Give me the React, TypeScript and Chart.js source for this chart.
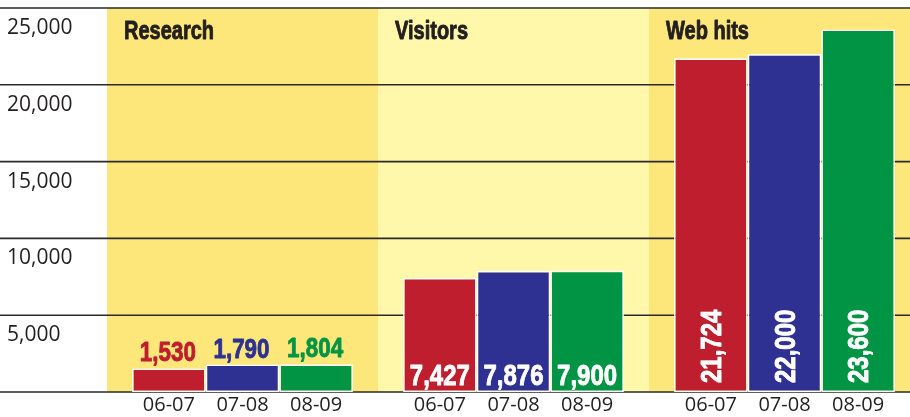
import React, { useEffect, useRef } from 'react';
import { Chart, registerables } from 'chart.js';

Chart.register(...registerables);

const categories = ['Research', 'Visitors', 'Web hits'];
const periods = ['06-07', '07-08', '08-09'];
const values0607 = [1530, 7427, 21724];
const values0708 = [1790, 7876, 22000];
const values0809 = [1804, 7900, 23600];
const yTicks = [0, 5000, 10000, 15000, 20000, 25000];

const seriesColors = ['#be1e2d', '#2e3192', '#009444'];
const panelColors = ['#fee77a', '#fff7aa', '#fee77a'];
const ink = '#231f20';
const boldFace = '"Liberation Sans", Arial, sans-serif';
const regular = '"Open Sans", "Noto Sans", sans-serif';
const condense = 0.8;

const fmt = (v: number) => v.toLocaleString('en-US');

function heavyText(ctx: any, text: string, color: string) {
  ctx.fillStyle = color;
  ctx.strokeStyle = color;
  ctx.lineWidth = 0.9;
  ctx.lineJoin = 'round';
  ctx.fillText(text, 0, 0);
  ctx.strokeText(text, 0, 0);
}

function condensedText(ctx: any, text: string, x: number, y: number, align: string, color: string) {
  ctx.save();
  ctx.translate(x, y);
  ctx.scale(condense, 1);
  ctx.textAlign = align;
  heavyText(ctx, text, color);
  ctx.restore();
}

const backdrop = {
  id: 'backdrop',
  beforeDatasetsDraw(chart: any) {
    const { ctx, chartArea, scales } = chart;
    const x = scales.x;
    const y = scales.y;
    ctx.save();
    const n = categories.length;
    for (let i = 0; i < n; i++) {
      const c = x.getPixelForValue(i);
      const left = i === 0 ? chartArea.left : (x.getPixelForValue(i - 1) + c) / 2;
      const right = i === n - 1 ? chart.width : (c + x.getPixelForValue(i + 1)) / 2;
      ctx.fillStyle = panelColors[i];
      ctx.fillRect(left, chartArea.top, right - left, chartArea.bottom - chartArea.top);
      ctx.font = `bold 25px ${boldFace}`;
      ctx.textBaseline = 'alphabetic';
      condensedText(ctx, categories[i], left + 17, chartArea.top + 31, 'left', ink);
    }
    ctx.strokeStyle = '#2a2a2a';
    ctx.lineWidth = 1.6;
    yTicks.forEach((v) => {
      const py = y.getPixelForValue(v);
      ctx.beginPath();
      ctx.moveTo(0, py);
      ctx.lineTo(chart.width, py);
      ctx.stroke();
    });
    ctx.restore();
  },
};

const valueLabels = {
  id: 'valueLabels',
  afterDatasetsDraw(chart: any) {
    const { ctx } = chart;
    ctx.save();
    chart.data.datasets.forEach((ds: any, di: number) => {
      const meta = chart.getDatasetMeta(di);
      meta.data.forEach((bar: any, i: number) => {
        const v = ds.data[i] as number;
        const { x: bx, y: by, base } = bar.getProps(['x', 'y', 'base'], true);
        const h = base - by;
        const txt = fmt(v);
        if (h < 60) {
          ctx.font = `bold 28px ${boldFace}`;
          ctx.textBaseline = 'alphabetic';
          condensedText(ctx, txt, bx - 1, by - 7, 'center', seriesColors[di]);
        } else if (h < 200) {
          ctx.font = `bold 30px ${boldFace}`;
          ctx.textBaseline = 'alphabetic';
          condensedText(ctx, txt, bx, base - 7, 'center', '#ffffff');
        } else {
          ctx.save();
          ctx.font = `bold 30px ${boldFace}`;
          ctx.translate(bx + 1, base - 9);
          ctx.rotate(-Math.PI / 2);
          ctx.scale(condense, 1);
          ctx.textAlign = 'left';
          ctx.textBaseline = 'middle';
          ctx.translate(0, 1);
          heavyText(ctx, txt, '#ffffff');
          ctx.restore();
        }
        ctx.fillStyle = ink;
        ctx.font = `20px ${regular}`;
        ctx.textAlign = 'center';
        ctx.textBaseline = 'middle';
        ctx.fillText(ds.label, bx, base + 13);
      });
    });
    ctx.restore();
  },
};

export default function App() {
  const ref = useRef<HTMLCanvasElement | null>(null);
  useEffect(() => {
    if (!ref.current) return;
    const seriesValues = [values0607, values0708, values0809];
    const chart = new Chart(ref.current, {
      type: 'bar',
      data: {
        labels: categories,
        datasets: periods.map((p, i) => ({
          label: p,
          data: seriesValues[i],
          backgroundColor: seriesColors[i],
          borderColor: '#ffffff',
          borderWidth: 1.6,
          borderSkipped: false,
          barPercentage: 1,
          categoryPercentage: 0.815,
        })),
      },
      options: {
        responsive: false,
        animation: false,
        layout: { padding: { left: 7, top: 8, bottom: 25, right: 0 } },
        plugins: { legend: { display: false }, tooltip: { enabled: false } },
        scales: {
          x: { display: false },
          y: {
            min: 0,
            max: 25000,
            afterFit: (s: any) => {
              s.width = 100;
              s.paddingTop = 0;
              s.paddingBottom = 0;
            },
            grid: { display: false },
            border: { display: false },
            ticks: {
              stepSize: 5000,
              crossAlign: 'far',
              padding: 0,
              labelOffset: 20,
              color: ink,
              font: { family: regular, size: 21 },
              callback: (v: any) => (Number(v) === 0 ? '' : fmt(Number(v))),
            },
          },
        },
      },
      plugins: [backdrop, valueLabels],
    } as any);
    return () => chart.destroy();
  }, []);
  return (
    <div style={{ position: 'fixed', left: 0, top: 0, width: 910, height: 417, overflow: 'hidden', background: '#fff' }}>
      <canvas ref={ref} width={920} height={417} style={{ display: 'block' }} />
    </div>
  );
}
